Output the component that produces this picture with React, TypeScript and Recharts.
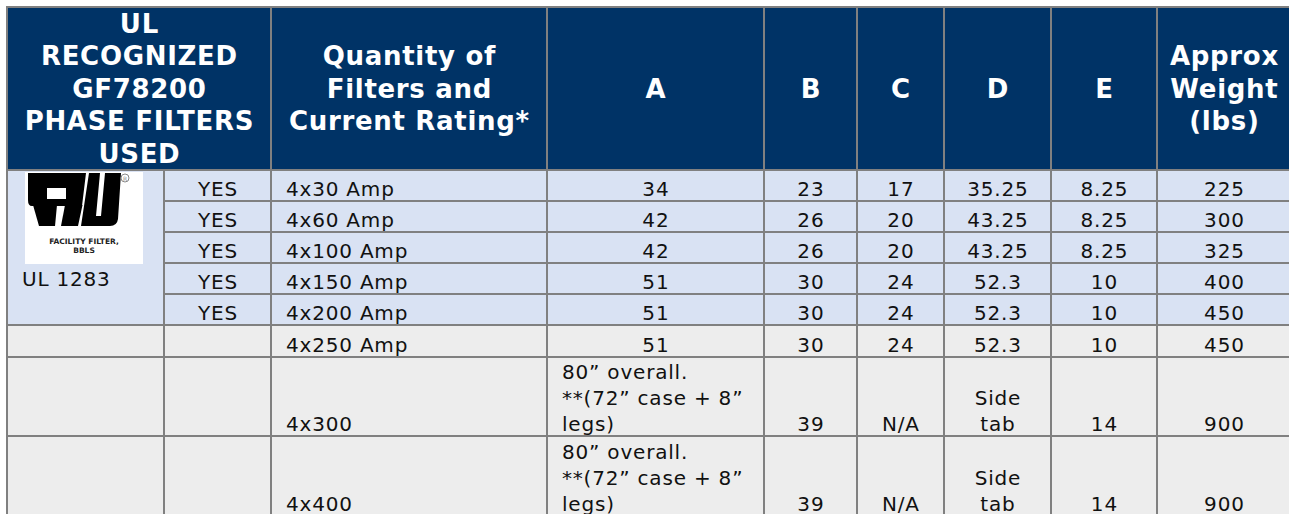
import React from 'react';
import { ComposedChart, XAxis, YAxis, ReferenceArea } from 'recharts';

// table contents
const headers = [
  'UL\nRECOGNIZED\nGF78200\nPHASE FILTERS\nUSED',
  'Quantity of\nFilters and\nCurrent Rating*',
  'A',
  'B',
  'C',
  'D',
  'E',
  'Approx\nWeight\n(lbs)',
];
const ulListed = ['YES', 'YES', 'YES', 'YES', 'YES', '', '', ''];
const quantity = ['4x30 Amp', '4x60 Amp', '4x100 Amp', '4x150 Amp', '4x200 Amp', '4x250 Amp', '4x300', '4x400'];
const dimA = [
  '34', '42', '42', '51', '51', '51',
  '80” overall.\n**(72” case + 8”\nlegs)',
  '80” overall.\n**(72” case + 8”\nlegs)',
];
const dimB = ['23', '26', '26', '30', '30', '30', '39', '39'];
const dimC = ['17', '20', '20', '24', '24', '24', 'N/A', 'N/A'];
const dimD = ['35.25', '43.25', '43.25', '52.3', '52.3', '52.3', 'Side\ntab', 'Side\ntab'];
const dimE = ['8.25', '8.25', '8.25', '10', '10', '10', '14', '14'];
const weight = ['225', '300', '325', '400', '450', '450', '900', '900'];
const ulStandard = 'UL 1283';
const logoCaption = ['FACILITY FILTER,', 'BBLS'];

// layout (chart units = px inside the plot area)
const COL_EDGES = [0, 157, 264, 540, 757, 850, 937, 1044, 1150, 1284];
const ROW_EDGES = [0, 163, 194, 225, 256, 287, 318, 350, 429, 509];

const NAVY = '#003366';
const BLUE = '#D9E2F3';
const GREY = '#EDEDED';
const GRID = '#808080';
const FONT = '"DejaVu Sans", Verdana, sans-serif';

type Cell = {
  c0: number;
  c1: number;
  r0: number;
  r1: number;
  text: string;
  align: 'left' | 'center';
  header?: boolean;
  logo?: boolean;
  fill: string;
};

function buildCells(): Cell[] {
  const cells: Cell[] = [];
  cells.push({ c0: 0, c1: 2, r0: 0, r1: 1, text: headers[0], align: 'center', header: true, fill: NAVY });
  for (let h = 1; h < headers.length; h++) {
    cells.push({ c0: h + 1, c1: h + 2, r0: 0, r1: 1, text: headers[h], align: 'center', header: true, fill: NAVY });
  }
  cells.push({ c0: 0, c1: 1, r0: 1, r1: 6, text: ulStandard, align: 'left', logo: true, fill: BLUE });
  const cols = [ulListed, quantity, dimA, dimB, dimC, dimD, dimE, weight];
  quantity.forEach((_, i) => {
    const r = i + 1;
    const fill = ulListed[i] ? BLUE : GREY;
    if (!ulListed[i]) cells.push({ c0: 0, c1: 1, r0: r, r1: r + 1, text: '', align: 'left', fill });
    cols.forEach((col, k) => {
      const val = col[i];
      const multi = val.includes('\n');
      const align = k === 1 || (k === 2 && multi) ? 'left' : 'center';
      cells.push({ c0: k + 1, c1: k + 2, r0: r, r1: r + 1, text: val, align, fill });
    });
  });
  return cells;
}

const cells = buildCells();

// rough drawing of the recognized-component mark
function UlLogo({ x, y }: { x: number; y: number }) {
  return (
    <g transform={`translate(${x},${y})`}>
      <rect x={0} y={0} width={118} height={92} fill="#fff" />
      <path d="M3,1 H61 L57,34 H7 Q3,34 3,28 Z M22,16 V27 H41 V16 Z" fill="#000" fillRule="evenodd" />
      <path d="M8,33 H32 L30,54 H14 Z" fill="#000" />
      <path d="M40,33 H57.5 L53,54 H36 Z" fill="#000" />
      <path d="M64,1 H96 L93,47 Q92,54 85,54 H56 Z M75,1 H80 L76,44 H71 Z" fill="#000" fillRule="evenodd" />
      <circle cx={100} cy={6} r={4} fill="none" stroke="#888" strokeWidth={1} />
      <text x={100} y={8.5} fontSize={6} textAnchor="middle" fill="#888" fontFamily={FONT}>R</text>
      <text x={59} y={72} fontSize={7.5} fontWeight="bold" textAnchor="middle" fill="#222" fontFamily={FONT}>
        {logoCaption[0]}
      </text>
      <text x={59} y={81} fontSize={7.5} fontWeight="bold" textAnchor="middle" fill="#222" fontFamily={FONT}>
        {logoCaption[1]}
      </text>
    </g>
  );
}

const renderCell = (cell: Cell) => (props: any) => {
  const vb = props.viewBox || {};
  const { x, y, width, height } = vb;
  if (x == null) return null;
  const lines = cell.text ? cell.text.split('\n') : [];
  if (cell.header) {
    const lh = 32.5;
    const cy = y + height / 2;
    return (
      <text fontFamily={FONT} fontSize={26} fontWeight="bold" letterSpacing={0.7} fill="#fff" textAnchor="middle">
        {lines.map((l, i) => (
          <tspan key={i} x={x + width / 2 + 0.4} y={cy - ((lines.length - 1) / 2) * lh + 9 + i * lh}>
            {l}
          </tspan>
        ))}
      </text>
    );
  }
  if (cell.logo) {
    return (
      <g>
        <UlLogo x={x + 18} y={y + 2} />
        <text x={x + 15} y={y + 116} fontFamily={FONT} fontSize={20} letterSpacing={0.8} fill="#111">
          {cell.text}
        </text>
      </g>
    );
  }
  const lh = 26;
  const bottom = y + Math.min(height, 80) - 5;
  const tx = cell.align === 'left' ? x + 15 : x + width / 2 + 0.4;
  return (
    <text
      fontFamily={FONT}
      fontSize={20}
      letterSpacing={0.8}
      fill="#111"
      textAnchor={cell.align === 'left' ? 'start' : 'middle'}
    >
      {lines.map((l, i) => (
        <tspan key={i} x={tx} y={bottom - (lines.length - 1 - i) * lh}>
          {l}
        </tspan>
      ))}
    </text>
  );
};

export default function App() {
  return (
    <div style={{ position: 'absolute', left: 0, top: 0, width: 1289, height: 514, overflow: 'hidden', background: '#fff' }}>
      <ComposedChart width={1289} height={514} margin={{ top: 7, right: 0, bottom: 0, left: 7 }}>
        <XAxis type="number" dataKey="x" domain={[0, 1282]} allowDataOverflow hide />
        <YAxis type="number" dataKey="y" domain={[0, 507]} allowDataOverflow reversed hide />
        {cells.map((c, i) => (
          <ReferenceArea
            key={i}
            x1={COL_EDGES[c.c0]}
            x2={COL_EDGES[c.c1]}
            y1={ROW_EDGES[c.r0]}
            y2={ROW_EDGES[c.r1]}
            fill={c.fill}
            fillOpacity={1}
            stroke={GRID}
            strokeWidth={2}
            ifOverflow="visible"
            label={renderCell(c)}
          />
        ))}
      </ComposedChart>
    </div>
  );
}
